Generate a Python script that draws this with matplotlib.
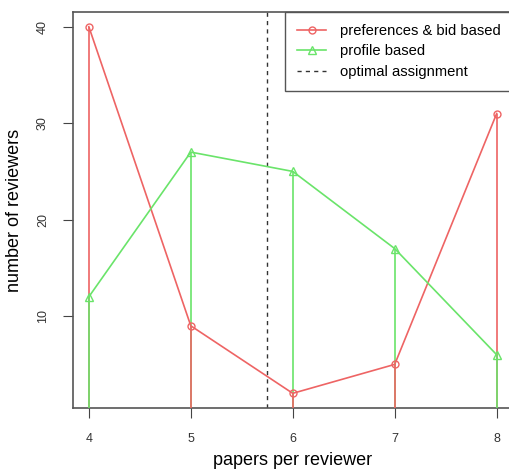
import numpy as np
import matplotlib.pyplot as plt

plt.rcParams['font.family'] = ['Liberation Sans', 'DejaVu Sans']

# papers per reviewer vs number of reviewers
papers = [4, 5, 6, 7, 8]
pref_bid = [40, 9, 2, 5, 31]
profile = [12, 27, 25, 17, 6]
optimal = 5.75

red = '#ee6464'
green = '#6ae46a'

fig = plt.figure(figsize=(5.09, 4.70), dpi=100)
ax = fig.add_axes([72.5 / 509, 62 / 470, 440.5 / 509, 396 / 470])

# R type="b" + type="h": vertical lines from 0, the shorter one on top
for x, a, b in zip(papers, pref_bid, profile):
    if a >= b:
        ax.vlines(x, 0, a, color=red, lw=1.2, zorder=2)
        ax.vlines(x, 0, b, color=green, lw=1.2, zorder=3)
    else:
        ax.vlines(x, 0, b, color=green, lw=1.2, zorder=2)
        ax.vlines(x, 0, a, color=red, lw=1.2, zorder=3)

ax.plot(papers, pref_bid, color=red, lw=1.2, marker='o', ms=5, mfc='none',
        mec=red, label='preferences & bid based', zorder=4)
ax.plot(papers, profile, color=green, lw=1.2, marker='^', ms=6, mfc='none',
        mec=green, label='profile based', zorder=4)
ax.axvline(optimal, color='#333333', lw=1.0, ls=(0, (3, 3)),
           label='optimal assignment', zorder=1)

ax.set_xlim(3.84, 8.16)
ax.set_ylim(0.48, 41.52)
ax.set_xticks(papers)
ax.set_yticks([10, 20, 30, 40])
ax.tick_params(axis='both', length=7, width=0.8, color='#444444',
               labelsize=9, labelcolor='#333333')
ax.tick_params(axis='x', pad=11)
ax.tick_params(axis='y', pad=10, labelrotation=90)
for lab in ax.get_yticklabels():
    lab.set_va('center')

for s in ax.spines.values():
    s.set_color('#555555')
    s.set_linewidth(1.2)

ax.set_xlabel('papers per reviewer', fontsize=13, labelpad=5)
ax.set_ylabel('number of reviewers', fontsize=13, labelpad=10)

leg = ax.legend(loc='upper right', borderaxespad=0, fontsize=10.6,
                fancybox=False, framealpha=1, edgecolor='#555555',
                handlelength=2.0, handletextpad=0.95, borderpad=0.8,
                labelspacing=0.45)
leg.get_frame().set_linewidth(1.0)

plt.savefig('out.png')
